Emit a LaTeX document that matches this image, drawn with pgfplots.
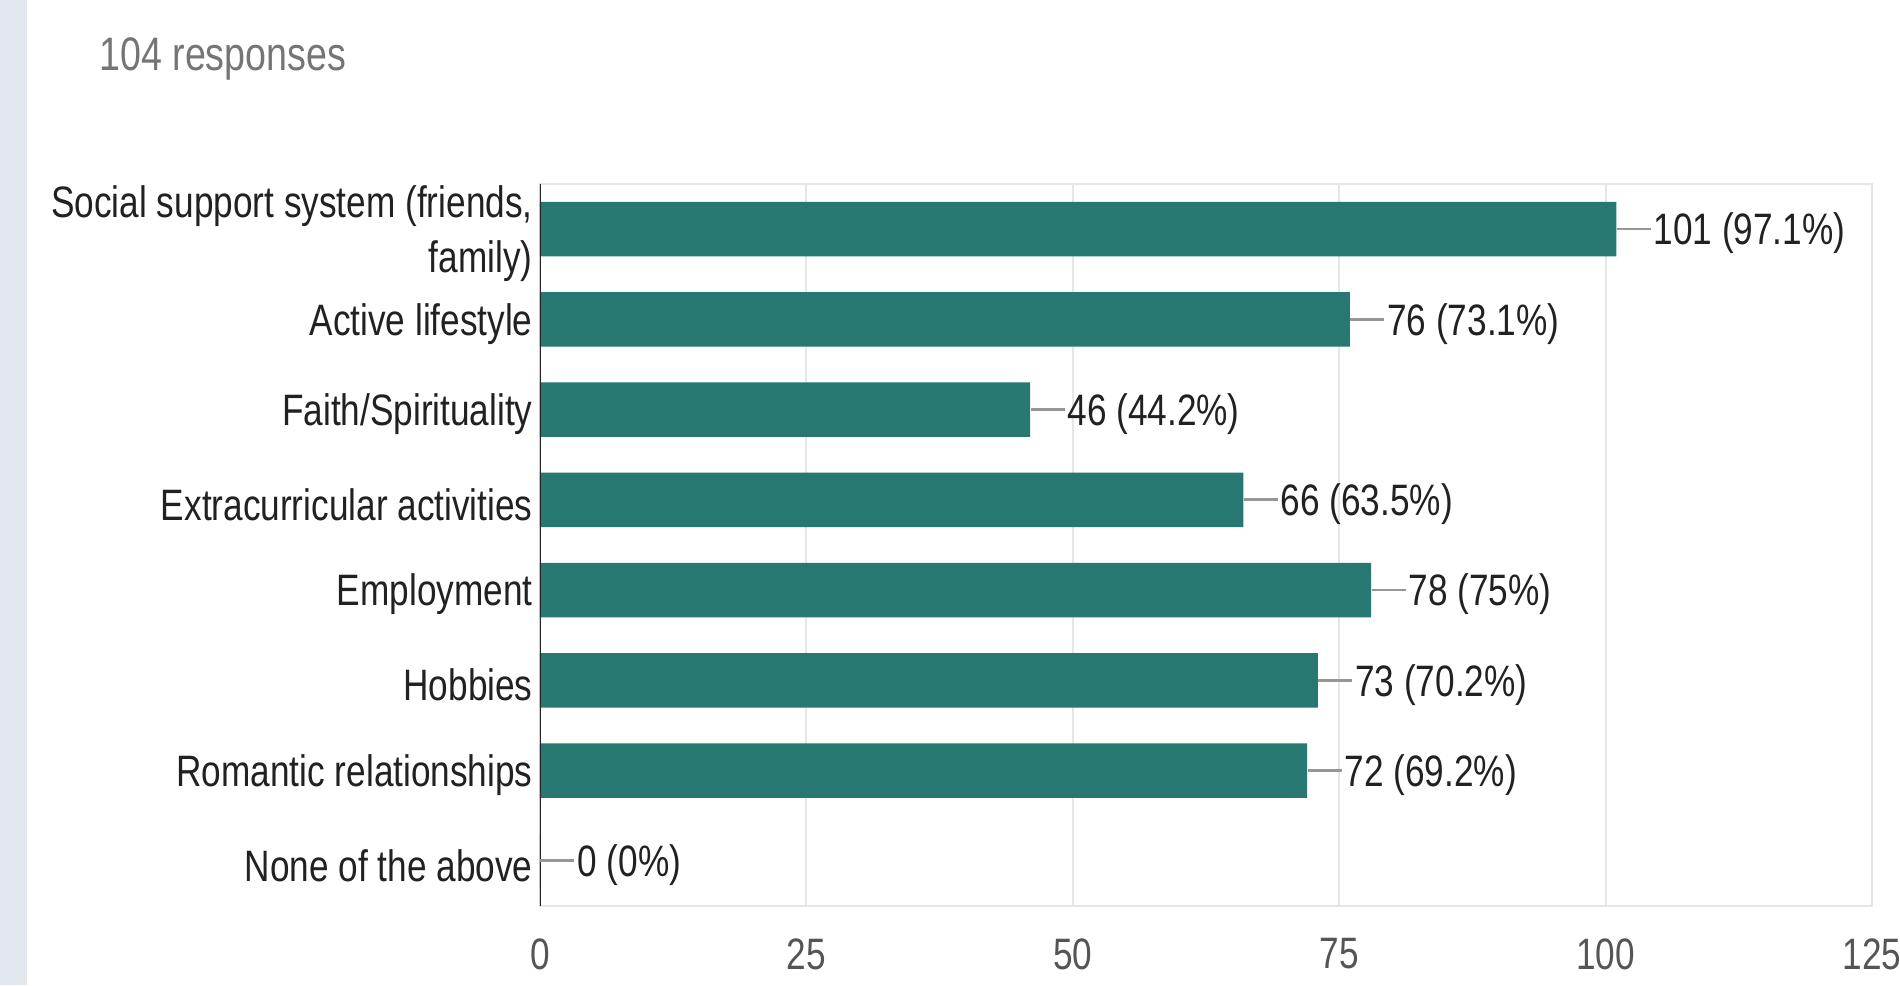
\documentclass[border=0pt]{standalone}
\usepackage{fontspec}
\setmainfont{Liberation Sans}[FakeStretch=0.8]
\usepackage{pgfplots}
\pgfplotsset{compat=1.18}
\definecolor{barcol}{RGB}{38,120,113}
\definecolor{gridcol}{RGB}{230,230,230}
\definecolor{stripcol}{RGB}{226,231,239}
\definecolor{leadcol}{RGB}{150,150,150}
\definecolor{txtcol}{RGB}{33,33,33}
\definecolor{tickcol}{RGB}{85,85,85}
\definecolor{respcol}{RGB}{117,117,117}
\begin{document}
\begin{tikzpicture}
\path[use as bounding box] (0pt,0pt) rectangle (950pt,492.5pt);
\fill[stripcol] (0pt,0pt) rectangle (13.5pt,492.5pt);
\node[anchor=west, inner sep=0pt, text=respcol, font=\fontsize{23.5}{27}\selectfont] at (49.5pt,463pt) {104 responses};
\begin{axis}[
  at={(270pt,39.5pt)}, anchor=south west,
  width=666pt, height=361pt, scale only axis,
  xbar, bar width=27.3pt,
  xmin=0, xmax=125, ymin=-0.5, ymax=7.5,
  enlargelimits=false,
  y dir=reverse,
  xtick={0,25,50,75,100,125},
  ytick={0,1,2,3,4,5,6,7},
  yticklabels={{Social support system (friends,\\family)},{Active lifestyle},{Faith/Spirituality},{Extracurricular activities},{Employment},{Hobbies},{Romantic relationships},{None of the above}},
  xmajorgrids,
  major grid style={draw=gridcol, line width=1pt},
  axis line style={draw=gridcol, line width=1pt},
  major tick length=0pt,
  tick style={draw=none},
  /pgf/number format/assume math mode=true,
  xticklabel style={font=\fontsize{22}{26}\selectfont, text=tickcol, inner sep=0pt, yshift=-16pt},
  yticklabel style={font=\fontsize{22}{27.3}\selectfont, text=txtcol, align=right, inner sep=0pt, xshift=-3.5pt, yshift=-2.2pt},
  nodes near coords={\textcolor{leadcol}{\rule[0.33em]{17pt}{1.4pt}}\hspace{1.5pt}\pgfplotspointmeta},
  point meta=explicit symbolic,
  every node near coord/.append style={anchor=west, inner sep=0pt, text=txtcol, font=\fontsize{22}{26}\selectfont, yshift=-2.2pt},
]
\addplot[fill=barcol, draw=none] coordinates {
  (101,0) [101 (97.1\%)]
  (76,1) [76 (73.1\%)]
  (46,2) [46 (44.2\%)]
  (66,3) [66 (63.5\%)]
  (78,4) [78 (75\%)]
  (73,5) [73 (70.2\%)]
  (72,6) [72 (69.2\%)]
  (0,7) [0 (0\%)]
};
\draw[draw=black!85, line width=1.5pt] (axis cs:0,-0.5) -- (axis cs:0,7.5);
\end{axis}
\end{tikzpicture}
\end{document}
